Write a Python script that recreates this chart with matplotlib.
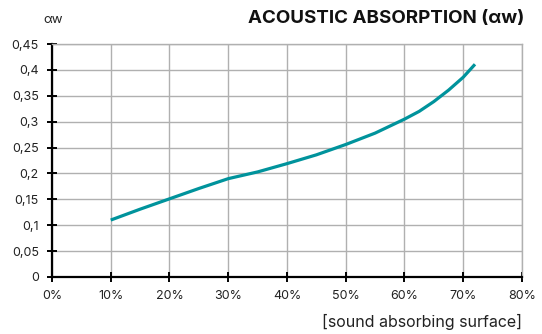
import matplotlib
matplotlib.use("Agg")
from matplotlib import pyplot as plt
from matplotlib.ticker import MultipleLocator, FuncFormatter

# values
surface = [10, 15, 20, 25, 30, 35, 40, 45, 50, 55, 60, 62.5, 65, 67.5, 70, 72]
alpha_w = [0.110, 0.131, 0.151, 0.171, 0.190, 0.203, 0.219, 0.236,
           0.256, 0.278, 0.305, 0.320, 0.339, 0.361, 0.386, 0.411]

title = "ACOUSTIC ABSORPTION (\u03b1w)"
ylabel = "\u03b1w"
xlabel = "[sound absorbing surface]"

plt.rcParams['font.family'] = ['Inter', 'DejaVu Sans']

fig = plt.figure(figsize=(5.42, 3.34), dpi=100)
ax = fig.add_axes([0.0959, 0.1707, 0.8672, 0.6973])

ax.plot(surface, alpha_w, color='#00939c', lw=2.3, solid_capstyle='butt',
        solid_joinstyle='round', zorder=3)

ax.set_xlim(0, 80)
ax.set_ylim(0, 0.45)
ax.xaxis.set_major_locator(MultipleLocator(10))
ax.yaxis.set_major_locator(MultipleLocator(0.05))
ax.xaxis.set_major_formatter(FuncFormatter(lambda v, p: "%d%%" % round(v)))

def yfmt(v, p):
    s = ("%.2f" % v).rstrip('0').rstrip('.')
    return s.replace('.', ',')
ax.yaxis.set_major_formatter(FuncFormatter(yfmt))

ax.grid(True, color='#b0b0b0', lw=1.0)
ax.set_axisbelow(True)
for s in ['top', 'right']:
    ax.spines[s].set_color('#b0b0b0')
    ax.spines[s].set_linewidth(1.0)
for s in ['left', 'bottom']:
    ax.spines[s].set_color('black')
    ax.spines[s].set_linewidth(1.6)
ax.tick_params(direction='inout', length=7, width=1.4, colors='black',
               labelcolor='#222222', labelsize=9)
ax.tick_params(axis='x', pad=6)
ax.tick_params(axis='y', pad=6)

# the reference has no tick mark at 0,4
for t in ax.yaxis.get_major_ticks():
    if abs(t.get_loc() - 0.4) < 1e-6:
        t.tick1line.set_visible(False)

fig.text(0.968, 0.945, title, ha='right', va='center', fontsize=13.5,
         fontweight='bold', color='#111111')
fig.text(0.08, 0.94, ylabel, ha='left', va='center', fontsize=9.5, color='#222222')
fig.text(0.963, 0.035, xlabel, ha='right', va='center', fontsize=11.5, color='#222222')

fig.savefig("out.png", dpi=100)
